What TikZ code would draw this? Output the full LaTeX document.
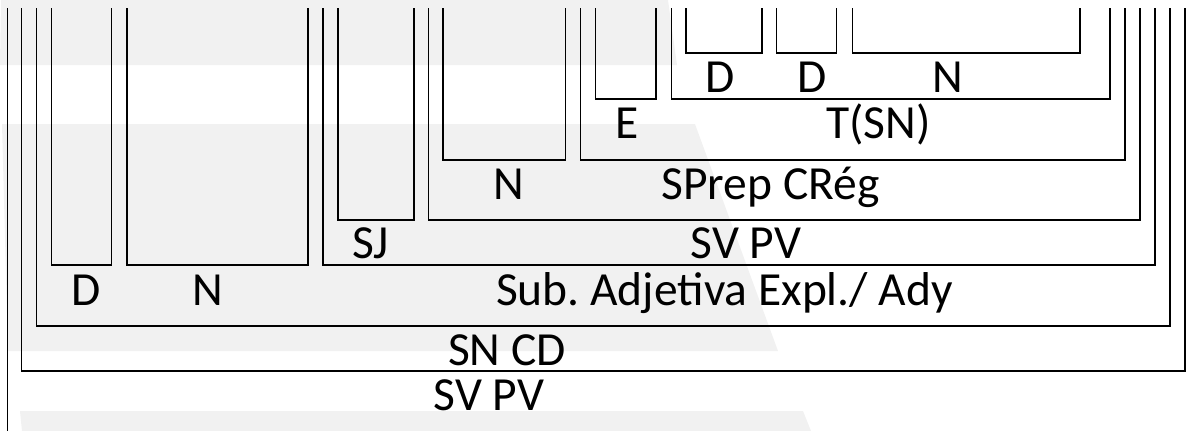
\documentclass[tikz,border=0pt]{standalone}
\usepackage{fontspec}
\setmainfont{Carlito}
\frenchspacing
\definecolor{wmgrey}{RGB}{241,241,241}
\begin{document}
\begin{tikzpicture}[x=1pt,y=-1pt,
    brk/.style={line width=1.2pt},
    lbl/.style={anchor=base,inner sep=0pt,font=\fontsize{47.5}{50}\selectfont}]
    \useasboundingbox (0,0) rectangle (1189,431);
    % faint background bands
    \fill[wmgrey] (1,0) -- (668,0) -- (677,65) -- (0,65) -- cycle;
    \fill[wmgrey] (2,124) -- (695,124) -- (778,351) -- (8,351) -- cycle;
    \fill[wmgrey] (20,411) -- (803,411) -- (811,431) -- (22,431) -- cycle;
    % brackets, outermost first
    \draw[brk] (7.3,8) -- (7.3,431);
    \draw[brk] (21.3,8) |- (1185,371) -- (1185,8);
    \draw[brk] (36.3,8) |- (1170,326) -- (1170,8);
    \draw[brk] (51.3,8) |- (111.7,265) -- (111.7,8);
    \draw[brk] (127,8) |- (308,265) -- (308,8);
    \draw[brk] (323,8) |- (1155,265) -- (1155,8);
    \draw[brk] (338,8) |- (414,220) -- (414,8);
    \draw[brk] (428.7,8) |- (1140,220) -- (1140,8);
    \draw[brk] (443,8) |- (565.3,160) -- (565.3,8);
    \draw[brk] (580.7,8) |- (1125,160) -- (1125,8);
    \draw[brk] (595.7,8) |- (656,99) -- (656,8);
    \draw[brk] (671.3,8) |- (1110,99) -- (1110,8);
    \draw[brk] (686,8) |- (762,53) -- (762,8);
    \draw[brk] (776.7,8) |- (836.7,53) -- (836.7,8);
    \draw[brk] (852.3,8) |- (1080,53) -- (1080,8);
    % labels
    \node[lbl] (dtop) at (720.5,92) {D};
    \node[lbl] (dtopb) at (812,92) {D};
    \node[lbl] (ntop) at (947.5,92) {N};
    \node[lbl] (e) at (627.5,138) {E};
    \node[lbl] (tsn) at (878.5,138) {T(SN)};
    \node[lbl] (nmid) at (508.5,199) {N};
    \node[lbl] (sprep) at (770.5,199) {SPrep CRég};
    \node[lbl] (sj) at (370.5,258) {SJ};
    \node[lbl] (svpvin) at (746,258) {SV PV};
    \node[lbl] (dlow) at (85.8,305) {D};
    \node[lbl] (nlow) at (207.5,305) {N};
    \node[lbl] (subadj) at (724.5,305) {Sub. Adjetiva Expl./ Ady};
    \node[lbl] (sncd) at (507,365) {SN CD};
    \node[lbl] (svpv) at (489,410) {SV PV};
\end{tikzpicture}
\end{document}
